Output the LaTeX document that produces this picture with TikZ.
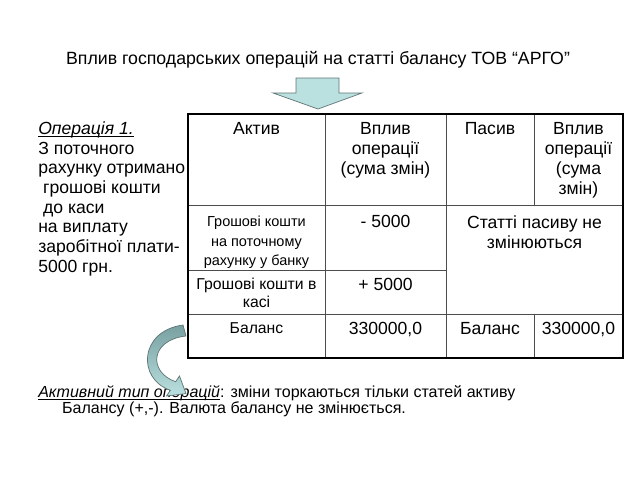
\documentclass[tikz,border=0pt]{standalone}
\usepackage{fontspec}
\setmainfont{Liberation Sans}
\usetikzlibrary{positioning, calc}

\definecolor{arrowfill}{RGB}{186,224,224}
\definecolor{arrowdark}{RGB}{120,160,160}
\definecolor{arrowline}{RGB}{96,116,116}

% underline set close under the baseline
\newcommand{\undl}[1]{\setbox0\hbox{#1}\rlap{\rule[-1.3pt]{\wd0}{0.5pt}}\box0}

\begin{document}
\begin{tikzpicture}[
  x=0.025cm, y=-0.025cm,
  every node/.style={inner sep=0pt, align=center, anchor=north},
  cell/.style={font=\fontsize{12.5}{14.3}\selectfont},
  small cell/.style={font=\fontsize{10.3}{13.8}\selectfont},
  mid cell/.style={font=\fontsize{11.2}{12.6}\selectfont},
  frame/.style={draw=black, line width=1.3pt},
  grid line/.style={draw=black!70, line width=0.6pt},
  side text/.style={anchor=north west, align=left, font=\fontsize{12.5}{14}\selectfont},
  note text/.style={anchor=north west, align=left, font=\fontsize{11.4}{11.6}\selectfont},
  block arrow/.style={fill=arrowfill, draw=arrowline, line width=0.5pt}
]
\useasboundingbox (0,0) rectangle (640,480);

% title and the arrow under it
\node[anchor=center, font=\fontsize{12.6}{14}\selectfont] (title) at (318,60)
  {Вплив господарських операцій на статті балансу ТОВ “АРГО”};
\draw[block arrow] (296,78) -- (339,78) -- (339,93) -- (362,93) -- (318,109)
  -- (273,93) -- (296,93) -- cycle;

% table grid
\draw[grid line] (188,205) -- (623,205);
\draw[grid line] (188,270) -- (446,270);
\draw[grid line] (188,314) -- (623,314);
\draw[grid line] (325,114) -- (325,358);
\draw[grid line] (446,114) -- (446,358);
\draw[grid line] (534,114) -- (534,205);
\draw[grid line] (534,314) -- (534,358);
\draw[frame] (188,114) rectangle (623,358);

% header
\node[cell] (hAsset) at (256.5,122) {Актив};
\node[cell] (hEffA) at (385.5,122) {Вплив\\операції\\(сума змін)};
\node[cell] (hLiab) at (490,122) {Пасив};
\node[cell] (hEffL) at (578.5,122) {Вплив\\операції\\(сума\\змін)};

% body rows
\node[small cell] (rBank) at (256.5,216) {Грошові кошти\\на поточному\\рахунку у банку};
\node[cell] (rBankEff) at (385.5,215) {- 5000};
\node[cell] (rLiab) at (534.5,215) {Статті пасиву не\\змінюються};
\node[mid cell] (rCash) at (256.5,278) {Грошові кошти в\\касі};
\node[cell] (rCashEff) at (385.5,278) {+ 5000};
\node[mid cell] (rTotA) at (256.5,322) {Баланс};
\node[cell] (rTotAEff) at (385.5,322) {330000,0};
\node[cell] (rTotL) at (490,322) {Баланс};
\node[cell] (rTotLEff) at (578.5,322) {330000,0};

% left description
\node[side text] (oper) at (38,121.5)
  {\undl{\textit{Операція 1.}}\\
   З поточного\\
   рахунку отримано\\
   \hspace*{0.28em}грошові кошти\\
   \hspace*{0.28em}до каси\\
   на виплату\\
   заробітної плати-\\
   5000 грн.};

% bottom note
\node[note text] (note) at (38,385.5)
  {\undl{\textit{Активний тип операцій}}: зміни торкаються тільки статей активу\\
   \hspace*{17pt}Балансу (+,-). Валюта балансу не змінюється.};

% curved arrow from the table to the note
\shadedraw[top color=arrowdark, bottom color=arrowfill, draw=arrowline, line width=0.5pt]
  (183,325) .. controls (139,331) and (137,379) .. (170.35,390.25)
  -- (166.5,396) -- (186,393.6) -- (179.5,376) -- (175.65,381.75)
  .. controls (148,372) and (150,340) .. (186,336) -- cycle;

\end{tikzpicture}
\end{document}
